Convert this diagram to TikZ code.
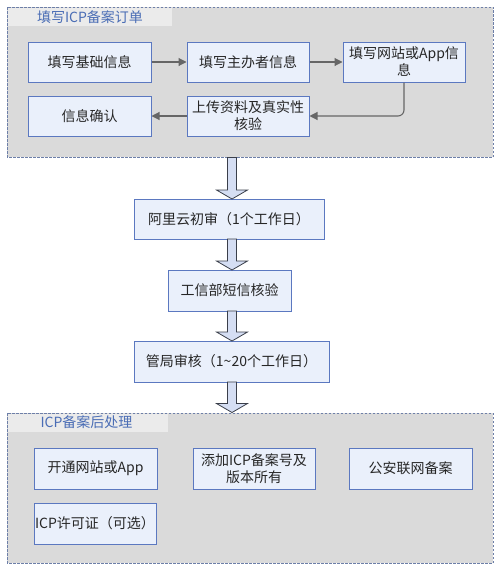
\documentclass[tikz,border=0pt]{standalone}
\usepackage{fontspec}
\setmainfont{Noto Sans CJK SC}
\usetikzlibrary{arrows.meta,calc}
\definecolor{grpfill}{HTML}{DADADA}
\definecolor{tabfill}{HTML}{EBEBEB}
\definecolor{grpline}{HTML}{6D7FA8}
\definecolor{boxfill}{HTML}{EAF0FB}
\definecolor{boxline}{HTML}{5B78C0}
\definecolor{titleblue}{HTML}{4A6DB5}
\definecolor{txt}{HTML}{262626}
\definecolor{conn}{HTML}{666666}
\definecolor{arrfill}{HTML}{D5DEF3}
\definecolor{arrline}{HTML}{3A3F4A}
\tikzset{
  grp/.style={draw=grpline, fill=grpfill, dashed, dash pattern=on 2.5pt off 1.5pt, line width=0.7pt},
  tab/.style={fill=tabfill},
  ttl/.style={text=titleblue, font=\fontsize{14}{15}\selectfont, inner sep=0pt},
  box/.style={draw=boxline, fill=boxfill, line width=1pt, minimum height=40pt, text=txt,
    font=\fontsize{14}{17}\selectfont, align=center, inner sep=1pt},
  cn/.style={draw=conn, line width=1.1pt, -{Triangle[length=8pt,width=8pt]}},
  barr/.style={draw=arrline, fill=arrfill, line width=0.8pt, line join=miter}
}
\newcommand\blockarrow[2]{%
  \draw[barr] let \p1=(#1), \p2=(#2) in
   (\x1-4.5pt,\y1) -- (\x1-4.5pt,\y2+9pt) -- (\x1-15.5pt,\y2+9pt) -- (\x1,\y2)
   -- (\x1+15.5pt,\y2+9pt) -- (\x1+4.5pt,\y2+9pt) -- (\x1+4.5pt,\y1) -- cycle;}
\begin{document}
\begin{tikzpicture}[x=1pt,y=-1pt]
\useasboundingbox (0,0) rectangle (500,570);
% top group
\path[grp] (7,7) rectangle (493,157);
\path[tab] (7.5,7.5) rectangle (172,26);
\node[ttl] (t1) at (90,17) {填写ICP备案订单};
\node[box, minimum width=123pt] (b1) at (89.5,62) {填写基础信息};
\node[box, minimum width=122pt] (b2) at (248,62) {填写主办者信息};
\node[box, minimum width=122pt] (b3) at (404,62) {填写网站或App信\\息};
\node[box, minimum width=123pt] (b4) at (89.5,116) {信息确认};
\node[box, minimum width=122pt] (b5) at (248,116) {上传资料及真实性\\核验};
\draw[cn] (b1) -- (b2);
\draw[cn] (b2) -- (b3);
\draw[cn, rounded corners=6pt] (b3.south) |- (b5.east);
\draw[cn] (b5) -- (b4);
% middle
\node[box, minimum width=190pt] (n1) at (229,219) {阿里云初审（1个工作日）};
\node[box, minimum width=123pt, minimum height=41pt] (n2) at (229.5,290.5) {工信部短信核验};
\node[box, minimum width=195pt, minimum height=41pt] (n3) at (231.5,361.5) {管局审核（1\textasciitilde 20个工作日）};
% bottom group
\path[grp] (7,413) rectangle (493,563);
\path[tab] (7.5,413.5) rectangle (168,432);
\node[ttl] (t2) at (86.5,422.5) {ICP备案后处理};
\node[box, minimum width=123pt, minimum height=41pt] (c1) at (95.5,468.5) {开通网站或App};
\node[box, minimum width=122pt, minimum height=41pt] (c2) at (254,468.5) {添加ICP备案号及\\版本所有};
\node[box, minimum width=123pt, minimum height=41pt] (c3) at (410.5,468.5) {公安联网备案};
\node[box, minimum width=122pt, minimum height=41pt] (c4) at (95,523.5) {ICP许可证（可选）};
% block arrows
\coordinate (s1) at (232,157.5);
\coordinate (e1) at (232,199);
\coordinate (s2) at (232,239);
\coordinate (e2) at (232,270);
\coordinate (s3) at (232,311);
\coordinate (e3) at (232,341);
\coordinate (s4) at (232,382);
\coordinate (e4) at (232,412.5);
\blockarrow{s1}{e1}
\blockarrow{s2}{e2}
\blockarrow{s3}{e3}
\blockarrow{s4}{e4}
\end{tikzpicture}
\end{document}
